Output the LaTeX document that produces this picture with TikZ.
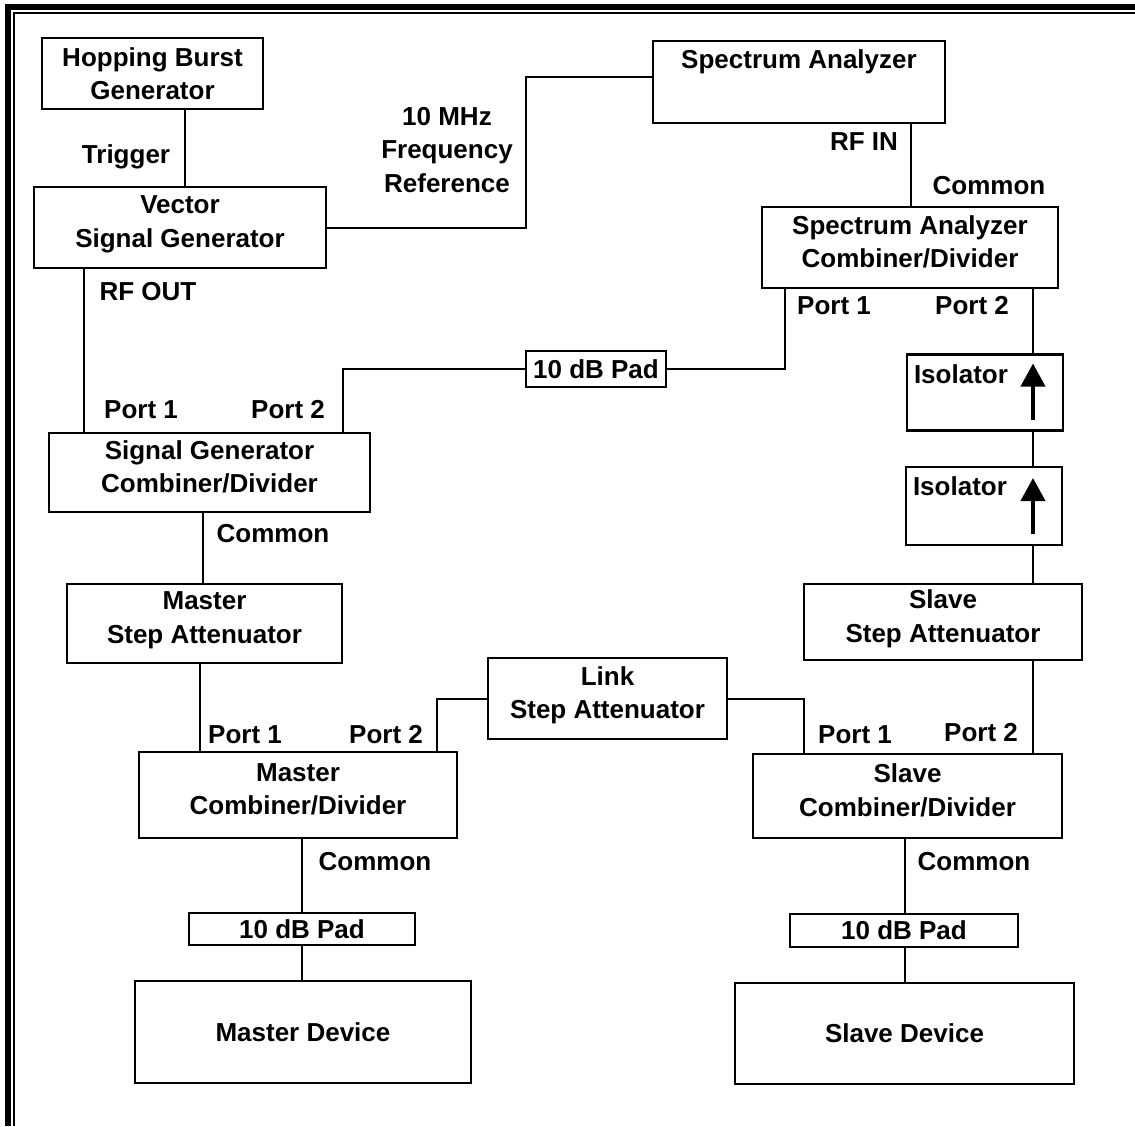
\documentclass[tikz,border=0pt]{standalone}
\usepackage[rgb]{xcolor}
\usepackage{fontspec}
\setmainfont{Liberation Sans}
\usepackage{tikz}
\usetikzlibrary{arrows.meta}

\begin{document}
\begin{tikzpicture}[x=0.5pt, y=-0.5pt, inner sep=0, outer sep=0,
    font=\fontsize{13}{16.75}\selectfont\bfseries,
    box/.style={draw, line width=1.2pt, align=center},
    twoline/.style={box, text depth=6pt},
    wire/.style={line width=1pt},
    lbl/.style={align=center},
    isoarrow/.style={line width=2pt, -{Triangle[length=11.5pt, width=12pt]}}]
    \useasboundingbox (0,0) rectangle (1135,1126);
    % kader
    \draw[line width=3pt, miter limit=2] (8,1126) -- (8,7) -- (1135,7);
    \draw[line width=1pt] (14,1126) -- (14,13) -- (1135,13);
    % coordinaten
    \coordinate (xtrig) at (185,0);
    \coordinate (xref) at (526,77);
    \coordinate (xrfin) at (911,0);
    \coordinate (xrfout) at (84,0);
    \coordinate (xsap1) at (785,0);
    \coordinate (xsgp2) at (343,0);
    \coordinate (xiso) at (1033,0);
    \coordinate (xcom) at (203,0);
    \coordinate (xmp1) at (200,0);
    \coordinate (xmp2) at (437,0);
    \coordinate (xsp1) at (804,0);
    \coordinate (xmcom) at (302,0);
    \coordinate (xscom) at (905,0);
    % blokken
    \node[box, minimum width=110.5pt, minimum height=35.5pt] (hop) at (152.5,73.5) {Hopping Burst\\Generator};
    \node[twoline, minimum width=146pt, minimum height=40.5pt] (vsg) at (180,227.5) {Vector\\Signal Generator};
    \node[box, minimum width=146pt, minimum height=41pt,
        label={[anchor=north, yshift=-4.5pt]north:Spectrum Analyzer}] (sa) at (799,82) {};
    \node[twoline, minimum width=148pt, minimum height=40.5pt] (sacd) at (910,247.5) {Spectrum Analyzer\\Combiner/Divider};
    \node[box, minimum width=70pt, minimum height=18pt] (pad1) at (596,369) {10 dB Pad};
    \node[box, minimum width=78pt, minimum height=38pt,
        label={[anchor=north west, xshift=3.5pt, yshift=-5pt]north west:Isolator}] (iso1) at (985,392.5) {};
    \node[box, minimum width=78pt, minimum height=39pt,
        label={[anchor=north west, xshift=3.5pt, yshift=-5pt]north west:Isolator}] (iso2) at (984,506) {};
    \node[twoline, minimum width=160.5pt, minimum height=39.5pt] (sgcd) at (209.5,472.5) {Signal Generator\\Combiner/Divider};
    \node[twoline, minimum width=137.5pt, minimum height=39.5pt] (msa) at (204.5,623.5) {Master\\Step Attenuator};
    \node[twoline, minimum width=139pt, minimum height=38pt] (ssa) at (943,622) {Slave\\Step Attenuator};
    \node[twoline, minimum width=119.5pt, minimum height=40.5pt] (link) at (607.5,698.5) {Link\\Step Attenuator};
    \node[twoline, minimum width=159pt, minimum height=43pt] (mcd) at (298,795) {Master\\Combiner/Divider};
    \node[twoline, minimum width=154.5pt, minimum height=42pt] (scd) at (907.5,796) {Slave\\Combiner/Divider};
    \node[box, minimum width=113pt, minimum height=16pt] (mpad) at (302,929) {10 dB Pad};
    \node[box, minimum width=114pt, minimum height=16.5pt] (spad) at (904,930.5) {10 dB Pad};
    \node[box, minimum width=168pt, minimum height=51pt] (mdev) at (303,1032) {Master Device};
    \node[box, minimum width=169.5pt, minimum height=50.5pt] (sdev) at (904.5,1033.5) {Slave Device};
    % isolator pijlen
    \draw[isoarrow] (iso1.south -| xiso) ++(0,-11) -- ++(0,-56);
    \draw[isoarrow] (iso2.south -| xiso) ++(0,-11) -- ++(0,-56);
    % verbindingen
    \draw[wire] (hop.south -| xtrig) -- (vsg.north -| xtrig);
    \draw[wire] (vsg.east) -| (xref) -- (sa.west |- xref);
    \draw[wire] (sa.south -| xrfin) -- (sacd.north -| xrfin);
    \draw[wire] (vsg.south -| xrfout) -- (sgcd.north -| xrfout);
    \draw[wire] (sacd.south -| xsap1) |- (pad1.east);
    \draw[wire] (pad1.west) -| (sgcd.north -| xsgp2);
    \draw[wire] (sacd.south -| xiso) -- (iso1.north -| xiso);
    \draw[wire] (iso1.south -| xiso) -- (iso2.north -| xiso);
    \draw[wire] (iso2.south -| xiso) -- (ssa.north -| xiso);
    \draw[wire] (ssa.south -| xiso) -- (scd.north -| xiso);
    \draw[wire] (sgcd.south -| xcom) -- (msa.north -| xcom);
    \draw[wire] (msa.south -| xmp1) -- (mcd.north -| xmp1);
    \draw[wire] (mcd.north -| xmp2) |- (link.west);
    \draw[wire] (link.east) -| (scd.north -| xsp1);
    \draw[wire] (mcd.south -| xmcom) -- (mpad.north -| xmcom);
    \draw[wire] (mpad.south -| xmcom) -- (mdev.north -| xmcom);
    \draw[wire] (scd.south -| xscom) -- (spad.north -| xscom);
    \draw[wire] (spad.south -| xscom) -- (sdev.north -| xscom);
    % labels
    \node (trig) at (126,157) {Trigger};
    \node[lbl] (ref) at (447,150) {10 MHz\\Frequency\\Reference};
    \node (rfin) at (864,142) {RF IN};
    \node (sacom) at (989,186) {Common};
    \node (rfout) at (148,292) {RF OUT};
    \node (sap1) at (834,306) {Port 1};
    \node (sap2) at (972,306) {Port 2};
    \node (sgp1) at (141,410) {Port 1};
    \node (sgp2) at (288,410) {Port 2};
    \node (sgcom) at (273,534) {Common};
    \node (mp1) at (245,735) {Port 1};
    \node (mp2) at (386,735) {Port 2};
    \node (sp1) at (855,735) {Port 1};
    \node (sp2) at (981,733) {Port 2};
    \node (mcom) at (375,862) {Common};
    \node (scom) at (974,862) {Common};
\end{tikzpicture}
\end{document}
